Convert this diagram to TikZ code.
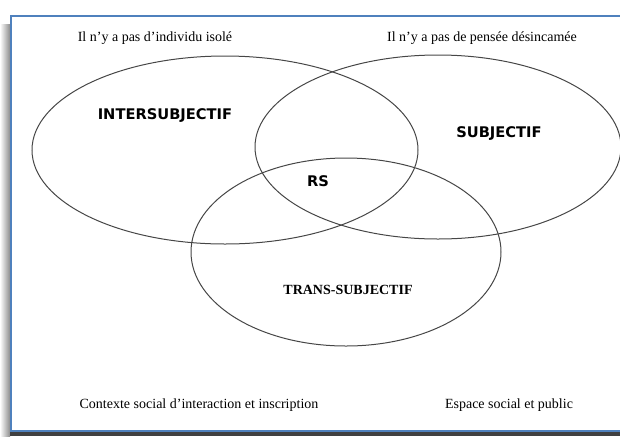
\documentclass[tikz,border=0pt]{standalone}
\usepackage{fontspec}
\setmainfont{Liberation Serif}
\newfontfamily\verdfont{DejaVu Sans}

\begin{document}
\begin{tikzpicture}[x=0.75pt,y=0.75pt,yscale=-1,xscale=1,
  note/.style={inner sep=0.75pt, font=\fontsize{10.5}{12}\selectfont},
  zone/.style={inner sep=0.75pt, font=\verdfont\bfseries\fontsize{11}{13}\selectfont},
  circ/.style={color={rgb, 255:red, 70; green, 70; blue, 70 }, line width=0.75}]
\useasboundingbox (0,0) rectangle (620,436);

%Frame shadow
\shade [left color=white, right color=black!45] (0,24) rectangle (10,436);
\fill [black!75] (10,432) rectangle (620,436);
%Frame
\draw [color={rgb, 255:red, 79; green, 129; blue, 189 }, line width=1.5] (622,16) -- (11,16) -- (11,431) -- (622,431);

%Shape: Ellipse (intersubjectif)
\draw [circ] (225,150) ellipse (193 and 94);
%Shape: Ellipse (subjectif)
\draw [circ] (438,147) ellipse (183 and 92);
%Shape: Ellipse (trans-subjectif)
\draw [circ] (346,252) ellipse (155 and 94);

% Text Node
\draw (155,38) node (isole) [note] {Il n’y a pas d’individu isolé};
% Text Node
\draw (482,38) node (pensee) [note] {Il n’y a pas de pensée désincamée};
% Text Node
\draw (165,116) node (inter) [zone] {INTERSUBJECTIF};
% Text Node
\draw (499,134) node (subj) [zone] {SUBJECTIF};
% Text Node
\draw (318,181) node (rs) [zone] {RS};
% Text Node
\draw (348,290) node (trans) [note, font=\bfseries\fontsize{10.5}{12}\selectfont] {TRANS-SUBJECTIF};
% Text Node
\draw (199,405) node (contexte) [note] {Contexte social d’interaction et inscription};
% Text Node
\draw (509,405) node (espace) [note] {Espace social et public};

\end{tikzpicture}
\end{document}
